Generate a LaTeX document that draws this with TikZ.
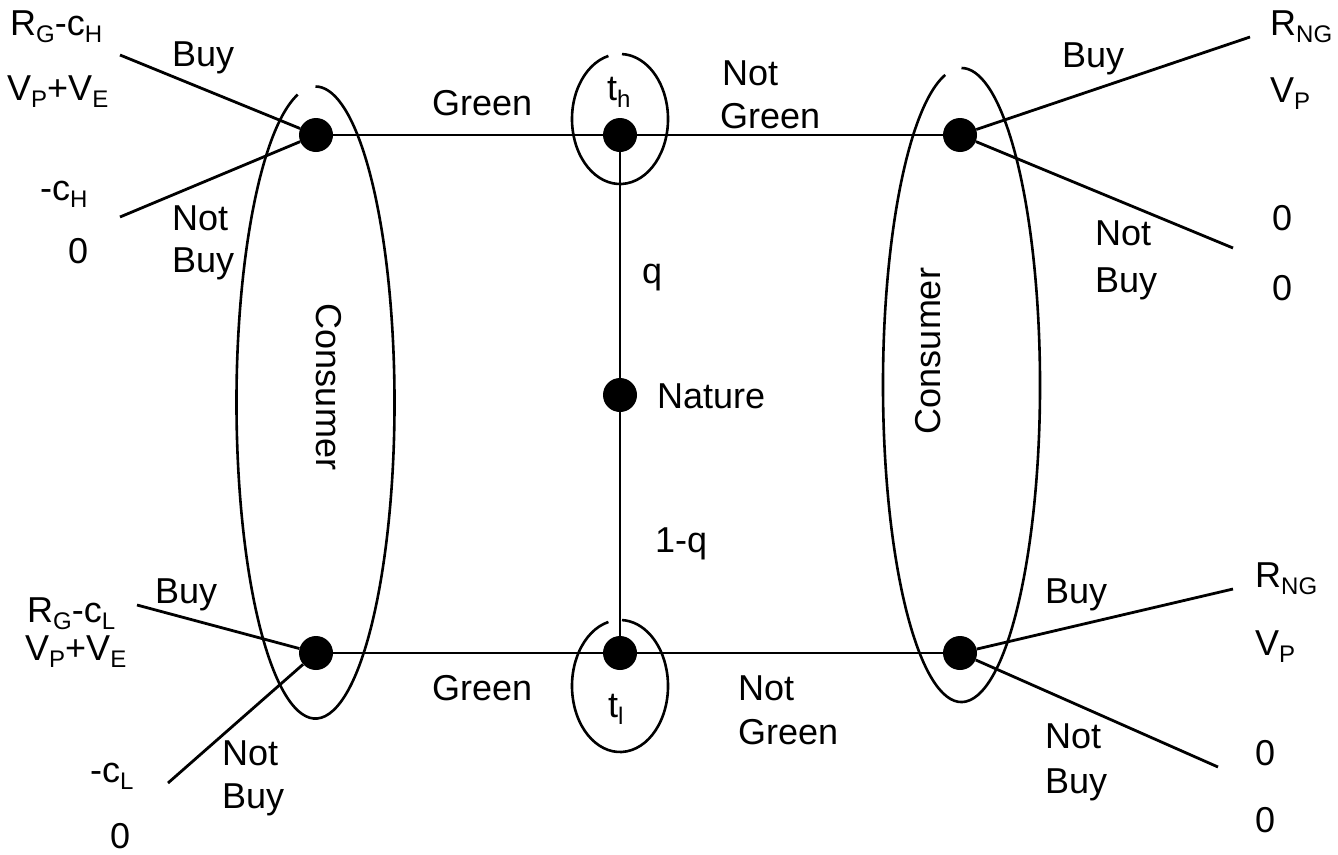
\documentclass[tikz,border=0pt]{standalone}
\usepackage{fontspec}
\setmainfont{Liberation Sans}
% subscript set smaller and lowered, as in the payoff labels
\newcommand\lo[1]{\raisebox{-0.2em}{\fontsize{24}{24}\selectfont #1}}
\begin{document}
\begin{tikzpicture}[x=1pt,y=-1pt,
  every node/.style={font=\fontsize{36}{42}\selectfont, inner sep=0pt},
  dot/.style={circle, fill=black, minimum size=34pt},
  edge/.style={line width=2.8pt},
  infoset/.style={line width=2.6pt},
  lbl/.style={anchor=base west}
]
\useasboundingbox (0,0) rectangle (1338,854);

% decision nodes
\node[dot] (lt)  at (316,135) {};
\node[dot] (th)  at (620,135) {};
\node[dot] (rt)  at (960,135) {};
\node[dot] (nat) at (620,395) {};
\node[dot] (lb)  at (316,653) {};
\node[dot] (tl)  at (620,653) {};
\node[dot] (rb)  at (960,653) {};

% free ends of the consumer's branches
\coordinate (ltB) at (120,55);
\coordinate (ltN) at (120,217);
\coordinate (lbB) at (137,605);
\coordinate (lbN) at (168,783);
\coordinate (rtB) at (1250,37);
\coordinate (rtN) at (1233,248);
\coordinate (rbB) at (1233,589);
\coordinate (rbN) at (1218,767);

% tree edges
\draw[edge] (lt) -- (th) -- (rt);
\draw[edge] (lb) -- (tl) -- (rb);
\draw[edge] (th) -- (nat) -- (tl);
\draw[edge] (lt) -- (ltB);
\draw[edge] (lt) -- (ltN);
\draw[edge] (lb) -- (lbB);
\draw[edge] (lb) -- (lbN);
\draw[edge] (rt) -- (rtB);
\draw[edge] (rt) -- (rtN);
\draw[edge] (rb) -- (rbB);
\draw[edge] (rb) -- (rbN);

% information sets (open at the top)
\draw[infoset] (315.5,402.5) ++(-103:79 and 316)
  arc[start angle=-103, end angle=-450, x radius=79, y radius=316];
\draw[infoset] (961.5,385) ++(-102:78.5 and 317)
  arc[start angle=-102, end angle=-450, x radius=78.5, y radius=317];
\draw[infoset] (620,119) ++(-104:48 and 65)
  arc[start angle=-104, end angle=-447.6, x radius=48, y radius=65];
\draw[infoset] (620,686) ++(-104:48 and 66)
  arc[start angle=-104, end angle=-447.6, x radius=48, y radius=66];

\node[rotate=-90] (cl) at (329,387) {Consumer};
\node[rotate=90]  (cr) at (928,351) {Consumer};

% top left
\node[lbl] (p1) at (10,35)  {R\lo{G}-c\lo{H}};
\node[lbl] (p2) at (7,100)  {V\lo{P}+V\lo{E}};
\node[lbl] (p3) at (40,200) {-c\lo{H}};
\node[lbl] (p4) at (68,263) {0};
\node[lbl] (b1) at (172,66) {Buy};
\node[lbl] (n1) at (172,230) {Not};
\node[lbl] (n1b) at (172,272) {Buy};

% top centre
\node[lbl] (g1) at (432,115) {Green};
\node[lbl] (th-l) at (607,100) {t\lo{h}};
\node[lbl] (ng1) at (722,85) {Not};
\node[lbl] (ng1b) at (720,128) {Green};

% nature
\node[lbl] (q)  at (642,283) {q};
\node[lbl] (nl) at (657,408) {Nature};
\node[lbl] (q2) at (655,552) {1-q};

% bottom centre
\node[lbl] (g2) at (432,700) {Green};
\node[lbl] (tl-l) at (608,717) {t\lo{l}};
\node[lbl] (ng2) at (738,700) {Not};
\node[lbl] (ng2b) at (738,744) {Green};

% top right
\node[lbl] (b2) at (1062,67) {Buy};
\node[lbl] (p5) at (1270,35) {R\lo{NG}};
\node[lbl] (p6) at (1270,102) {V\lo{P}};
\node[lbl] (p7) at (1272,230) {0};
\node[lbl] (p8) at (1272,300) {0};
\node[lbl] (n2) at (1095,245) {Not};
\node[lbl] (n2b) at (1095,292) {Buy};

% bottom left
\node[lbl] (b3) at (155,603) {Buy};
\node[lbl] (p9) at (27,622) {R\lo{G}-c\lo{L}};
\node[lbl] (p10) at (25,660) {V\lo{P}+V\lo{E}};
\node[lbl] (p11) at (90,782) {-c\lo{L}};
\node[lbl] (p12) at (110,848) {0};
\node[lbl] (n3) at (222,765) {Not};
\node[lbl] (n3b) at (222,808) {Buy};

% bottom right
\node[lbl] (b4) at (1045,603) {Buy};
\node[lbl] (p13) at (1255,587) {R\lo{NG}};
\node[lbl] (p14) at (1255,655) {V\lo{P}};
\node[lbl] (n4) at (1045,748) {Not};
\node[lbl] (n4b) at (1045,793) {Buy};
\node[lbl] (p15) at (1255,765) {0};
\node[lbl] (p16) at (1255,832) {0};
\end{tikzpicture}
\end{document}
